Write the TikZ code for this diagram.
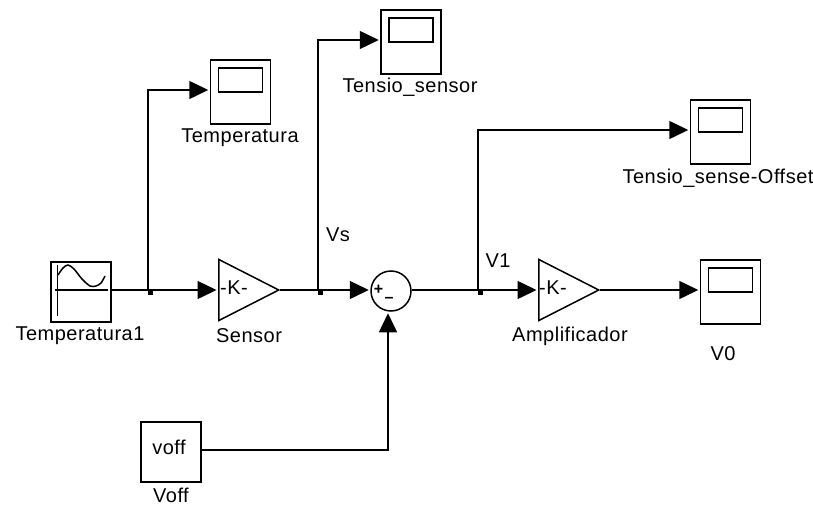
\documentclass[tikz,border=0pt]{standalone}
\usepackage{fontspec}
\setmainfont[LetterSpace=2.5]{Liberation Sans}
\usetikzlibrary{arrows.meta,shapes.geometric}
\tikzset{blk/.style={rectangle,draw,line width=1.5pt,minimum size=60pt,inner sep=0pt},scp/.style={rectangle,draw,line width=1.5pt,minimum width=60pt,minimum height=64pt,inner sep=0pt},scr/.style={rectangle,draw,line width=1.5pt,minimum width=44pt,minimum height=24pt,inner sep=0pt},gain/.style={isosceles triangle,isosceles triangle apex angle=54,draw,line width=1.5pt,minimum height=60pt,inner sep=0pt,anchor=lower side},sumb/.style={circle,draw,line width=1.5pt,minimum size=40pt,inner sep=0pt},dot/.style={rectangle,fill,minimum size=5pt,inner sep=0pt},nil/.style={inner sep=0pt,font=\fontsize{20}{20}\selectfont},sgn/.style={inner sep=0pt,font=\fontsize{16}{16}\selectfont\bfseries}}
\tikzset{sig/.style={line width=1.5pt,-{Triangle[length=19pt,width=18pt]},shorten >=1.5pt}}
\begin{document}
\begin{tikzpicture}[x=1pt,y=-1pt]
  \useasboundingbox (0,0) rectangle (813,505);
  % source
  \node[blk] (src) at (81,292) {};
  \node[nil] (srcl) at (80,336) {Temperatura1};
  \draw[line width=1.5pt] (55,290) -- (108,290) (57.5,265) -- (57.5,316);
  \draw[line width=1.5pt] plot[smooth] coordinates {(58,275) (63,268) (68,265) (74,269) (82,279) (90,286) (96,286) (101,283) (105,276)};
  % gains
  \node[gain] (sens) at (218,290) {};
  \node[nil] (sensk) at (234,288) {-K-};
  \node[nil] (sensl) at (249,336) {Sensor};
  \node[gain] (amp) at (538,290) {};
  \node[nil] (ampk) at (553,288) {-K-};
  \node[nil] (ampl) at (570,336) {Amplificador};
  % sum
  \node[sumb] (sum) at (391,291) {};
  \node[sgn] (plus) at (378.5,290) {+};
  \node[sgn] (minus) at (389,300) {–};
  % constant
  \node[blk] (off) at (171,452) {};
  \node[nil] (offt) at (169,447) {voff};
  \node[nil] (offl) at (171,495) {Voff};
  % scopes
  \node[scp] (sc1) at (240.5,92) {};
  \node[scr] at (240.5,80) (sc1s) {};
  \node[nil] (sc1l) at (240,138) {Temperatura};
  \node[scp] (sc2) at (411,42) {};
  \node[scr] at (411,30) (sc2s) {};
  \node[nil] (sc2l) at (410,87) {Tensio\_sensor};
  \node[scp] (sc3) at (720.5,132) {};
  \node[scr] at (720.5,120) (sc3s) {};
  \node[nil] (sc3l) at (718,178) {Tensio\_sense-Offset};
  \node[scp] (sc4) at (730.5,292) {};
  \node[scr] at (730.5,280) (sc4s) {};
  \node[nil] (sc4l) at (723,354) {V0};
  % signal names
  \node[nil] (vs) at (338,235) {Vs};
  \node[nil] (v1) at (498,261) {V1};
  % branch points
  \coordinate (j1) at (148,290);
  \coordinate (j2) at (318,290);
  \coordinate (j3) at (478,290);
  \coordinate (c1) at (388,450);
  \node[dot] (d1) at (150.5,292) {};
  \node[dot] (d2) at (320.5,292) {};
  \node[dot] (d3) at (480.5,292) {};
  \draw[sig] (src.east |- j1) -- (sens.lower side);
  \draw[sig] (sens.apex) -- (sum.west |- j1);
  \draw[sig] (sum.east |- j1) -- (amp.lower side);
  \draw[sig] (amp.apex) -- (sc4.west |- amp.apex);
  \draw[sig] (j1) -- (148,90) -- (sc1.west |- 148,90);
  \draw[sig] (j2) -- (318,40) -- (sc2.west |- 318,40);
  \draw[sig] (j3) -- (478,130) -- (sc3.west |- 478,130);
  \draw[sig] (off.east |- c1) -- (c1) -- (sum.south -| c1);
\end{tikzpicture}
\end{document}
